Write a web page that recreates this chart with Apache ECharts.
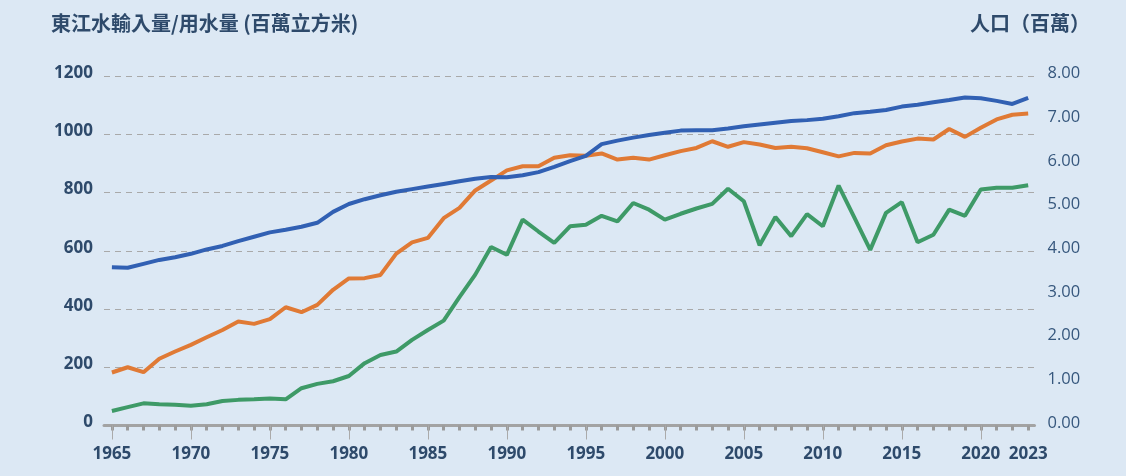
<!DOCTYPE html>
<html>
<head>
<meta charset="utf-8">
<script src="https://cdn.jsdelivr.net/npm/echarts@6/dist/echarts.min.js"></script>
<style>
html,body{margin:0;padding:0;background:#dce8f4;}
#chart{width:1126px;height:476px;}
</style>
</head>
<body>
<div id="chart"></div>
<script>
var years = [];
for (var y = 1965; y <= 2023; y++) years.push(y);

// 東江水輸入量 (百萬立方米)
var dongjiang = [50,63,76,73,71,68,73,84,88,90,93,90,128,143,152,170,214,242,254,294,
  328,360,441,518,613,586,707,666,627,684,689,720,701,764,741,707,727,745,761,813,
  770,619,716,650,726,684,824,714,603,730,767,629,655,741,720,810,816,816,825];
// 用水量 (百萬立方米)
var consumption = [182,200,183,229,254,277,303,328,357,349,365,406,389,414,466,505,506,517,590,629,
  644,712,747,807,841,876,890,890,919,928,926,934,913,919,913,928,942,953,976,957,
  973,965,953,957,952,938,924,936,934,962,975,985,982,1018,991,1022,1051,1067,1071];
// 人口 (百萬)
var population = [3.62,3.61,3.70,3.79,3.85,3.93,4.03,4.11,4.22,4.32,4.42,4.48,4.55,4.64,4.89,5.07,5.18,5.27,5.35,5.41,
  5.47,5.53,5.59,5.65,5.69,5.68,5.73,5.80,5.92,6.05,6.17,6.44,6.52,6.59,6.65,6.70,6.75,6.76,6.76,6.80,
  6.85,6.89,6.93,6.97,6.99,7.02,7.08,7.15,7.18,7.22,7.30,7.34,7.40,7.45,7.51,7.49,7.43,7.36,7.50];

var leftTicks = [0,200,400,600,800,1000,1200];
var rightTicks = [0,1,2,3,4,5,6,7,8];
var majorYears = [1965,1970,1975,1980,1985,1990,1995,2000,2005,2010,2015,2020];
var labelYears = majorYears.concat([2023]);

function pairs(arr){ return years.map(function(y,i){ return [y, arr[i]]; }); }

var textColor = '#2e4a6b';
var chart = echarts.init(document.getElementById('chart'));
chart.setOption({
  backgroundColor: '#dce8f4',
  animation: false,
  title: [
    {text: '東江水輸入量/用水量 (百萬立方米)', left: 51, top: 13, padding: 0,
     textStyle: {fontSize: 20, fontWeight: 'bold', color: textColor, fontFamily: 'Noto Sans CJK TC'}},
    {text: '人口（百萬）', left: 970, top: 13, padding: 0,
     textStyle: {fontSize: 20, fontWeight: 'bold', color: textColor, fontFamily: 'Noto Sans CJK TC'}}
  ],
  grid: {left: 104, right: 91.5, top: 76, bottom: 50.5},
  xAxis: [
    {type: 'value', min: 1964.5, max: 2023.4,
     axisLine: {show: true, lineStyle: {color: '#a3a3a3', width: 3}},
     axisTick: {show: true, customValues: years, length: 5, lineStyle: {color: '#9b9b9b', width: 3}},
     axisLabel: {show: false}, splitLine: {show: false}},
    {type: 'value', min: 1964.5, max: 2023.4, position: 'bottom',
     axisLine: {show: false},
     axisTick: {show: true, customValues: majorYears, length: 14, lineStyle: {color: '#aaaaaa', width: 1}},
     axisLabel: {show: true, customValues: labelYears, margin: 20, fontSize: 17, fontWeight: 'bold',
       color: textColor, fontFamily: 'Open Sans', formatter: function(v){ return String(v); }},
     splitLine: {show: false}}
  ],
  yAxis: [
    {type: 'value', min: 0, max: 1200, interval: 200,
     axisLine: {show: false}, axisTick: {show: false},
     axisLabel: {margin: 11, customValues: leftTicks,
       formatter: function(v){ return '{a|' + v + '}'; },
       rich: {a: {fontSize: 17, fontWeight: 'bold', color: textColor, fontFamily: 'Open Sans', padding: [0,0,6,0]}}},
     splitLine: {show: true, lineStyle: {color: '#a9a9a9', type: [6, 5], width: 1.2}}},
    {type: 'value', min: 0, max: 8, interval: 1, position: 'right',
     axisLine: {show: false}, axisTick: {show: false},
     axisLabel: {margin: 13, customValues: rightTicks,
       formatter: function(v){ return '{a|' + v.toFixed(2) + '}'; },
       rich: {a: {fontSize: 16.5, color: '#36577d', fontFamily: 'Open Sans', padding: [0,0,5,0]}}},
     splitLine: {show: false}}
  ],
  series: [
    {name: '東江水輸入量', type: 'line', xAxisIndex: 0, yAxisIndex: 0, data: pairs(dongjiang),
     showSymbol: false, lineStyle: {color: '#3e9a67', width: 4}, itemStyle: {color: '#3e9a67'}},
    {name: '用水量', type: 'line', xAxisIndex: 0, yAxisIndex: 0, data: pairs(consumption),
     showSymbol: false, lineStyle: {color: '#e07a35', width: 4}, itemStyle: {color: '#e07a35'}},
    {name: '人口', type: 'line', xAxisIndex: 0, yAxisIndex: 1, data: pairs(population),
     showSymbol: false, lineStyle: {color: '#3160b3', width: 4}, itemStyle: {color: '#3160b3'}}
  ]
});
</script>
</body>
</html>
